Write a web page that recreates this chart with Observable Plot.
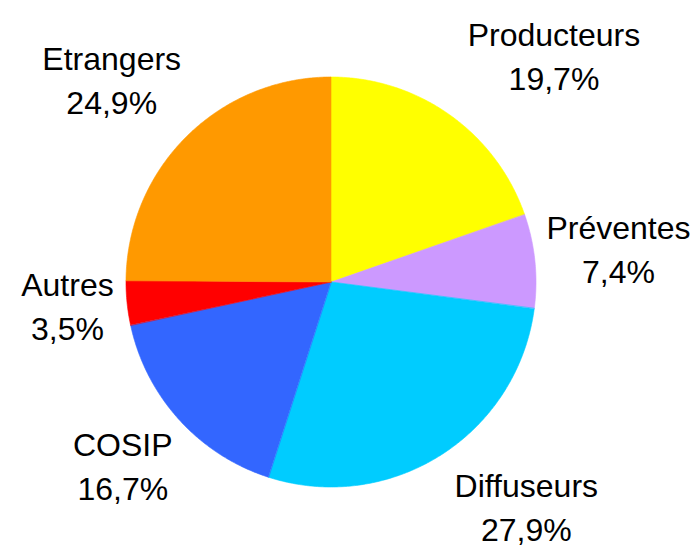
<!DOCTYPE html>
<html><head><meta charset="utf-8">
<script src="https://cdn.jsdelivr.net/npm/d3@7"></script>
<script src="https://cdn.jsdelivr.net/npm/@observablehq/plot@0.6"></script>
<style>body{margin:0;background:#fff}</style>
</head><body><div id="chart"></div>
<script>
// Data
const categories = ["Producteurs", "Préventes", "Diffuseurs", "COSIP", "Autres", "Etrangers"];
const shares = [19.7, 7.4, 27.9, 16.7, 3.5, 24.9];
const colors = ["#FFFF00", "#CC99FF", "#00CCFF", "#3366FF", "#FF0000", "#FF9900"];

// Layout
const W = 695, H = 546, CX = 331, CY = 282, RADIUS = 205;
const FONT_SIZE = 32, FONT = "'Liberation Sans', Arial, sans-serif";
const LABEL_R = 232, BLOCK_H = 66, LABEL_DX = 13, LABEL_DY = -7;

const slices = categories.map((name, i) => ({name, value: shares[i]}));
const arcs = d3.pie().sort(null).value(d => d.value)(slices);

const wedgePts = [];
for (const a of arcs) {
  const n = Math.max(2, Math.ceil((a.endAngle - a.startAngle) / (Math.PI / 360)));
  for (let k = 0; k <= n; k++) {
    const t = a.startAngle + (a.endAngle - a.startAngle) * k / n;
    wedgePts.push({name: a.data.name, x1: Math.sin(t), y1: Math.cos(t), x2: 0, y2: 0});
  }
}

const ctx = document.createElement("canvas").getContext("2d");
ctx.font = `${FONT_SIZE}px 'Liberation Sans'`;
const fmt = v => v.toFixed(1).replace(".", ",") + "%";
const f = t => Math.max(-1, Math.min(1, 1.5 * t));
const labels = arcs.map(a => {
  const m = (a.startAngle + a.endAngle) / 2;
  const sx = Math.sin(m), sy = Math.cos(m);
  const lines = [a.data.name, fmt(a.data.value)];
  const w = Math.max(...lines.map(s => ctx.measureText(s).width));
  let px = CX + LABEL_DX + LABEL_R * sx + f(sx) * w / 2;
  let py = CY - LABEL_R * sy - f(sy) * BLOCK_H / 2;
  px = Math.min(W - 5 - w / 2, Math.max(5 + w / 2, px));
  return {text: lines.join("\n"), x: (px - CX) / RADIUS, y: (CY - py) / RADIUS};
});

const chart = Plot.plot({
  width: W, height: H, margin: 0,
  x: {axis: null, domain: [-CX / RADIUS, (W - CX) / RADIUS]},
  y: {axis: null, domain: [-(H - CY) / RADIUS, CY / RADIUS]},
  color: {domain: categories, range: colors},
  marks: [
    Plot.area(wedgePts, {x1: "x1", y1: "y1", x2: "x2", y2: "y2", z: "name", fill: "name", stroke: "name", strokeWidth: 0.6, curve: "linear"}),
    Plot.text(labels, {x: "x", y: "y", text: "text", dy: LABEL_DY, fontSize: FONT_SIZE, fontFamily: FONT, fill: "black", textAnchor: "middle", lineAnchor: "middle", lineHeight: 1.375})
  ]
});
document.getElementById("chart").appendChild(chart);
</script>
</body></html>
